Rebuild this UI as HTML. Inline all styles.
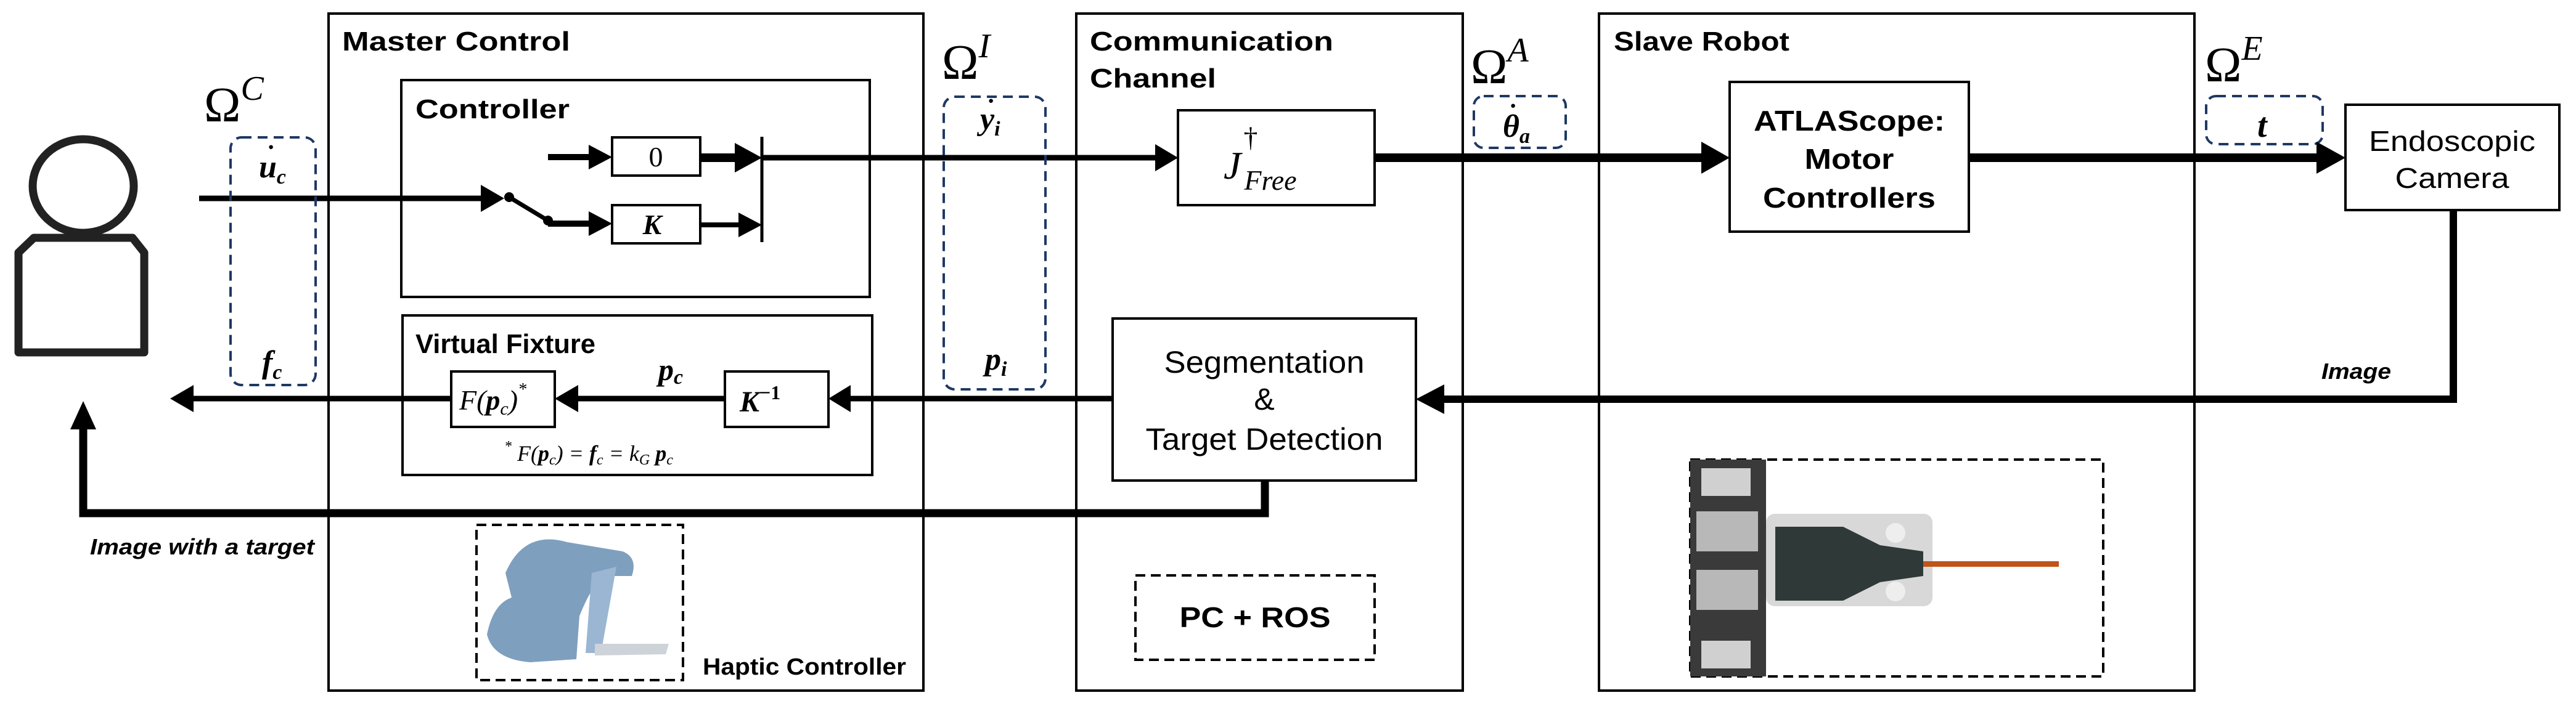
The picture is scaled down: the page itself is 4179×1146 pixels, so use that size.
<!DOCTYPE html>
<html><head><meta charset="utf-8"><style>
html,body{margin:0;padding:0;background:#fff;}
svg{display:block;}
.t{font-family:"Liberation Sans",sans-serif;font-weight:bold;fill:#000;}
.r{font-family:"Liberation Sans",sans-serif;fill:#000;}
.m{font-family:"Liberation Serif",serif;fill:#000;}
</style></head><body>
<svg width="4179" height="1146" viewBox="0 0 4179 1146" xmlns="http://www.w3.org/2000/svg">
<rect width="4179" height="1146" fill="#fff"/>
<!-- person -->
<ellipse cx="135" cy="302" rx="82" ry="76" fill="none" stroke="#222" stroke-width="13"/>
<path d="M55 386 L215 386 L234 410 L234 572 L30 572 L30 410 Z" fill="none" stroke="#222" stroke-width="13" stroke-linejoin="round"/>

<!-- big boxes -->
<rect x="533" y="22" width="965" height="1099" fill="none" stroke="#000" stroke-width="4"/>
<rect x="1746" y="22" width="627" height="1099" fill="none" stroke="#000" stroke-width="4"/>
<rect x="2594" y="22" width="966" height="1099" fill="none" stroke="#000" stroke-width="4"/>
<text class="t" x="555" y="82" font-size="44" textLength="370" lengthAdjust="spacingAndGlyphs">Master Control</text>
<text class="t" x="1768" y="82" font-size="44" textLength="395" lengthAdjust="spacingAndGlyphs">Communication</text>
<text class="t" x="1768" y="142" font-size="44" textLength="205" lengthAdjust="spacingAndGlyphs">Channel</text>
<text class="t" x="2618" y="82" font-size="44" textLength="285" lengthAdjust="spacingAndGlyphs">Slave Robot</text>

<!-- controller -->
<rect x="651" y="130" width="760" height="352" fill="none" stroke="#000" stroke-width="4"/>
<text class="t" x="674" y="192" font-size="44" textLength="250" lengthAdjust="spacingAndGlyphs">Controller</text>
<rect x="993" y="223" width="143" height="62" fill="none" stroke="#000" stroke-width="4"/>
<text class="m" x="1064" y="270" font-size="46" text-anchor="middle">0</text>
<rect x="993" y="333" width="143" height="62" fill="none" stroke="#000" stroke-width="4"/>
<text class="m" x="1058" y="380" font-size="46" font-style="italic" font-weight="bold" text-anchor="middle">K</text>
<line x1="889" y1="255" x2="960" y2="255" stroke="#000" stroke-width="10"/>
<polygon points="955,235 993,255 955,275" fill="#000"/>
<line x1="1136" y1="256" x2="1200" y2="256" stroke="#000" stroke-width="14"/>
<polygon points="1192,232 1236,256 1192,280" fill="#000"/>
<line x1="1136" y1="365" x2="1205" y2="365" stroke="#000" stroke-width="8"/>
<polygon points="1198,345 1236,365 1198,385" fill="#000"/>
<line x1="1236" y1="222" x2="1236" y2="393" stroke="#000" stroke-width="5"/>
<!-- input line & switch -->
<line x1="323" y1="322" x2="785" y2="322" stroke="#000" stroke-width="9"/>
<polygon points="780,300 818,322 780,344" fill="#000"/>
<circle cx="826" cy="320" r="8" fill="#000"/>
<line x1="826" y1="320" x2="889" y2="358" stroke="#000" stroke-width="7"/>
<circle cx="889" cy="358" r="8" fill="#000"/>
<line x1="889" y1="363" x2="960" y2="363" stroke="#000" stroke-width="10"/>
<polygon points="955,343 993,363 955,383" fill="#000"/>
<!-- to Jfree -->
<line x1="1236" y1="256" x2="1880" y2="256" stroke="#000" stroke-width="9"/>
<polygon points="1874,234 1911,256 1874,278" fill="#000"/>

<!-- virtual fixture -->
<rect x="653" y="512" width="762" height="259" fill="none" stroke="#000" stroke-width="4"/>
<text class="t" x="674" y="573" font-size="44" textLength="292" lengthAdjust="spacingAndGlyphs">Virtual Fixture</text>
<rect x="732" y="603" width="168" height="90" fill="none" stroke="#000" stroke-width="4"/>
<text class="m" x="745" y="665" font-size="46" font-style="italic">F(<tspan font-weight="bold">p</tspan><tspan font-size="30" dy="8">c</tspan><tspan dy="-8">)</tspan><tspan font-size="28" dy="-24">*</tspan></text>
<rect x="1176" y="603" width="168" height="90" fill="none" stroke="#000" stroke-width="4"/>
<text class="m" x="1200" y="668" font-size="48" font-style="italic" font-weight="bold">K<tspan font-size="32" dy="-20" font-style="normal">−1</tspan></text>
<text class="m" x="1068" y="617" font-size="50" font-style="italic" font-weight="bold">p<tspan font-size="34" dy="6">c</tspan></text>
<line x1="1176" y1="647" x2="938" y2="647" stroke="#000" stroke-width="9"/>
<polygon points="938,625 900,647 938,669" fill="#000"/>
<text class="m" x="818" y="748" font-size="36" font-style="italic"><tspan font-size="24" dy="-16">*</tspan><tspan dy="16"> F(</tspan><tspan font-weight="bold">p</tspan><tspan font-size="24" dy="6">c</tspan><tspan dy="-6">) = </tspan><tspan font-weight="bold">f</tspan><tspan font-size="24" dy="6">c</tspan><tspan dy="-6"> =  k</tspan><tspan font-size="24" dy="6">G</tspan><tspan dy="-6"> </tspan><tspan font-weight="bold">p</tspan><tspan font-size="24" dy="6">c</tspan></text>
<!-- output to human -->
<line x1="732" y1="647" x2="310" y2="647" stroke="#000" stroke-width="9"/>
<polygon points="314,625 276,647 314,669" fill="#000"/>
<!-- from seg to K^-1 -->
<line x1="1805" y1="647" x2="1380" y2="647" stroke="#000" stroke-width="9"/>
<polygon points="1380,625 1344,647 1380,669" fill="#000"/>

<!-- bottom loop -->
<path d="M2052 780 L2052 833 L135 833 L135 690" fill="none" stroke="#000" stroke-width="13"/>
<polygon points="114,697 135,651 156,697" fill="#000"/>
<text class="t" x="146" y="900" font-size="36" font-style="italic" textLength="364" lengthAdjust="spacingAndGlyphs">Image with a target</text>

<!-- haptic -->
<rect x="773" y="852" width="335" height="252" fill="none" stroke="#000" stroke-width="4" stroke-dasharray="16,9"/>
<path d="M820 930 Q850 860 920 880 L1010 895 Q1035 905 1025 935 L980 935 Q960 950 940 1000 L935 1070 L860 1075 Q800 1070 790 1030 Q800 980 830 970 Z" fill="#7f9fbf"/>
<path d="M960 930 L1000 920 L975 1060 L950 1060 Z" fill="#9ab6d2"/>
<path d="M965 1045 L1085 1045 L1080 1062 L965 1064 Z" fill="#cdd3d8"/>
<text class="t" x="1140" y="1095" font-size="38" textLength="330" lengthAdjust="spacingAndGlyphs">Haptic Controller</text>

<!-- Omega labels -->
<text class="m" x="331" y="197" font-size="80">Ω<tspan font-size="56" font-style="italic" dy="-35">C</tspan></text>
<text class="m" x="1528" y="128" font-size="80">Ω<tspan font-size="56" font-style="italic" dy="-35">I</tspan></text>
<text class="m" x="2386" y="135" font-size="80">Ω<tspan font-size="56" font-style="italic" dy="-35">A</tspan></text>
<text class="m" x="3577" y="132" font-size="80">Ω<tspan font-size="56" font-style="italic" dy="-35">E</tspan></text>

<!-- dashed navy boxes -->
<g fill="none" stroke="#1f3864" stroke-width="4" stroke-dasharray="16,10">
<rect x="374" y="223" width="138" height="402" rx="18"/>
<rect x="1531" y="157" width="165" height="475" rx="18"/>
<rect x="2391" y="156" width="149" height="84" rx="16"/>
<rect x="3579" y="156" width="189" height="78" rx="16"/>
</g>
<text class="m" x="420" y="288" font-size="52" font-style="italic" font-weight="bold">u<tspan font-size="34" dy="10">c</tspan></text>
<text class="m" x="433" y="252" font-size="40" font-weight="bold">·</text>
<text class="m" x="425" y="605" font-size="52" font-style="italic" font-weight="bold">f<tspan font-size="34" dy="10">c</tspan></text>
<text class="m" x="1590" y="210" font-size="52" font-style="italic" font-weight="bold">y<tspan font-size="34" dy="10">i</tspan></text>
<text class="m" x="1601" y="177" font-size="40" font-weight="bold">·</text>
<text class="m" x="1598" y="600" font-size="52" font-style="italic" font-weight="bold">p<tspan font-size="34" dy="10">i</tspan></text>
<text class="m" x="2438" y="222" font-size="52" font-style="italic" font-weight="bold">θ<tspan font-size="34" dy="10">a</tspan></text>
<text class="m" x="2448" y="185" font-size="40" font-weight="bold">·</text>
<text class="m" x="3662" y="222" font-size="56" font-style="italic" font-weight="bold">t</text>

<!-- Jfree -->
<rect x="1911" y="179" width="319" height="154" fill="none" stroke="#000" stroke-width="4"/>
<text class="m" x="1985" y="290" font-size="64" font-style="italic">J<tspan font-size="46" dx="4" dy="-52" font-style="normal">†</tspan><tspan font-size="46" dx="-22" dy="70">Free</tspan></text>
<line x1="2230" y1="256" x2="2760" y2="256" stroke="#000" stroke-width="14"/>
<polygon points="2760,230 2806,256 2760,282" fill="#000"/>

<!-- seg -->
<rect x="1805" y="517" width="492" height="263" fill="none" stroke="#000" stroke-width="4"/>
<text class="r" x="2051" y="605" font-size="50" text-anchor="middle" textLength="325" lengthAdjust="spacingAndGlyphs">Segmentation</text>
<text class="r" x="2051" y="665" font-size="50" text-anchor="middle">&amp;</text>
<text class="r" x="2051" y="730" font-size="50" text-anchor="middle" textLength="385" lengthAdjust="spacingAndGlyphs">Target Detection</text>
<!-- PC + ROS -->
<rect x="1842" y="934" width="388" height="137" fill="none" stroke="#000" stroke-width="4" stroke-dasharray="16,9"/>
<text class="t" x="2036" y="1018" font-size="46" text-anchor="middle" textLength="245" lengthAdjust="spacingAndGlyphs">PC + ROS</text>

<!-- ATLAS -->
<rect x="2806" y="133" width="388" height="243" fill="none" stroke="#000" stroke-width="4"/>
<text class="t" x="3000" y="212" font-size="46" text-anchor="middle" textLength="310" lengthAdjust="spacingAndGlyphs">ATLAScope:</text>
<text class="t" x="3000" y="274" font-size="46" text-anchor="middle" textLength="145" lengthAdjust="spacingAndGlyphs">Motor</text>
<text class="t" x="3000" y="337" font-size="46" text-anchor="middle" textLength="280" lengthAdjust="spacingAndGlyphs">Controllers</text>
<line x1="3194" y1="256" x2="3760" y2="256" stroke="#000" stroke-width="14"/>
<polygon points="3758,230 3805,256 3758,282" fill="#000"/>

<!-- camera -->
<rect x="3805" y="170" width="347" height="171" fill="none" stroke="#000" stroke-width="4"/>
<text class="r" x="3978" y="245" font-size="46" text-anchor="middle" textLength="270" lengthAdjust="spacingAndGlyphs">Endoscopic</text>
<text class="r" x="3978" y="305" font-size="46" text-anchor="middle" textLength="185" lengthAdjust="spacingAndGlyphs">Camera</text>
<path d="M3980 341 L3980 648 L2340 648" fill="none" stroke="#000" stroke-width="12"/>
<polygon points="2343,624 2297,648 2343,672" fill="#000"/>
<text class="t" x="3766" y="615" font-size="36" font-style="italic" textLength="113" lengthAdjust="spacingAndGlyphs">Image</text>

<!-- robot photo -->
<rect x="2742" y="746" width="670" height="352" fill="none" stroke="#000" stroke-width="4" stroke-dasharray="16,9"/>
<rect x="2742" y="746" width="123" height="352" fill="#3a3a3a"/>
<rect x="2752" y="830" width="100" height="65" fill="#b8b8b8"/>
<rect x="2752" y="925" width="100" height="65" fill="#b8b8b8"/>
<rect x="2760" y="760" width="80" height="45" fill="#d0d0d0"/>
<rect x="2760" y="1040" width="80" height="45" fill="#d0d0d0"/>
<rect x="2865" y="834" width="270" height="150" rx="14" fill="#d8d8d8"/>
<path d="M2880 855 L2990 855 L3050 885 L3120 895 L3120 935 L3050 945 L2990 975 L2880 975 Z" fill="#2f3a38"/>
<circle cx="3075" cy="865" r="16" fill="#eee"/>
<circle cx="3075" cy="960" r="16" fill="#eee"/>
<rect x="3120" y="911" width="220" height="9" fill="#c0541a"/>
</svg>
</body></html>
